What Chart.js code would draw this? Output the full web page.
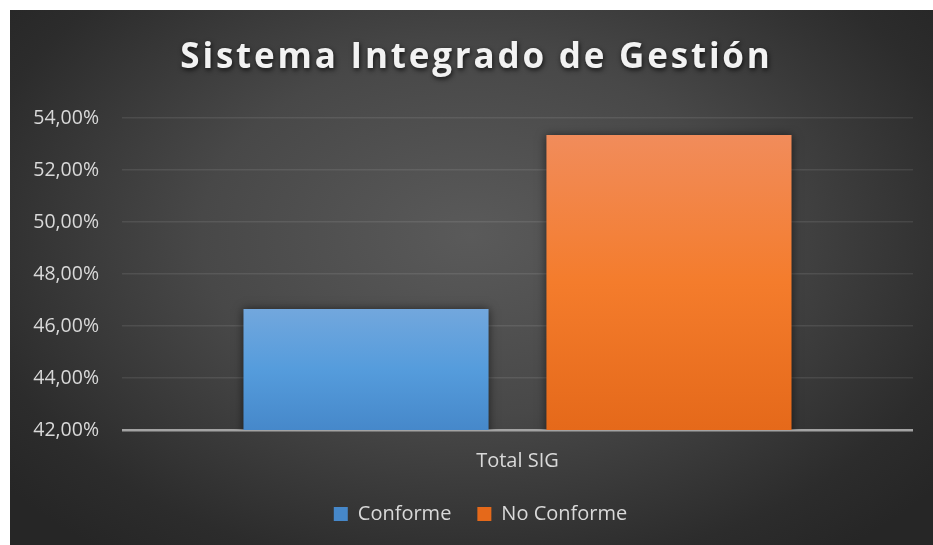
<!DOCTYPE html>
<html>
<head>
<meta charset="utf-8">
<script src="https://cdn.jsdelivr.net/npm/chart.js@4.4.1/dist/chart.umd.min.js"></script>
<style>
  html,body{margin:0;padding:0;background:#ffffff;}
  #wrap{position:absolute;left:10px;top:10px;width:923px;height:535px;
    background:radial-gradient(ellipse 65% 75% at 50% 42%, #5a5a5a 0%, #484848 45%, #2c2c2c 85%, #262626 100%);}
  canvas{display:block;}
</style>
</head>
<body>
<div id="wrap"><canvas id="c" width="923" height="535"></canvas></div>
<script>
const categories = ["Total SIG"];
const seriesNames = ["Conforme", "No Conforme"];
const conforme = [46.65];
const noConforme = [53.35];
const yTicks = [42, 44, 46, 48, 50, 52, 54];

function fmtPct(v){ return v.toFixed(2).replace('.', ',') + '%'; }

function barGradient(stops){
  return function(ctx){
    const chart = ctx.chart;
    const y = chart.scales && chart.scales.y;
    if (!y || ctx.parsed === undefined) return stops[1];
    const top = y.getPixelForValue(ctx.parsed.y);
    const bottom = y.getPixelForValue(y.min);
    if (!isFinite(top) || !isFinite(bottom)) return stops[1];
    const g = chart.ctx.createLinearGradient(0, top, 0, bottom);
    g.addColorStop(0, stops[0]);
    g.addColorStop(0.5, stops[1]);
    g.addColorStop(1, stops[2]);
    return g;
  };
}

const boxStyle = {
  id: 'boxStyle',
  afterLayout(chart){
    const tb = chart.titleBlock;
    if (tb && !tb._wrapped){
      const d = tb.draw.bind(tb);
      tb.draw = function(){
        const c = chart.ctx;
        c.save();
        c.translate(15, 0);
        c.letterSpacing = '2.8px';
        c.shadowColor = 'rgba(0,0,0,0.75)';
        c.shadowBlur = 5;
        c.shadowOffsetX = 1;
        c.shadowOffsetY = 2;
        d();
        c.restore();
      };
      tb._wrapped = true;
    }
    const lg = chart.legend;
    if (lg && !lg._wrapped){
      const d2 = lg.draw.bind(lg);
      lg.draw = function(){
        const c = chart.ctx;
        c.save();
        c.translate(19, 0);
        d2();
        c.restore();
      };
      lg._wrapped = true;
    }
  }
};

const barShadow = {
  id: 'barShadow',
  beforeDatasetsDraw(chart){
    const c = chart.ctx;
    c.save();
    c.shadowColor = 'rgba(0,0,0,0.55)';
    c.shadowBlur = 9;
    c.shadowOffsetX = 0;
    c.shadowOffsetY = 0;
  },
  afterDatasetsDraw(chart){
    chart.ctx.restore();
  }
};

new Chart(document.getElementById('c'), {
  type: 'bar',
  data: {
    labels: categories,
    datasets: [
      { label: seriesNames[0], data: conforme,
        backgroundColor: barGradient(['#72a7dd', '#559cdc', '#4688ca']),
        borderWidth: 0 },
      { label: seriesNames[1], data: noConforme,
        backgroundColor: barGradient(['#f18c5b', '#f47c2c', '#e5691a']),
        borderWidth: 0 }
    ]
  },
  options: {
    responsive: false,
    animation: false,
    categoryPercentage: 0.766,
    barPercentage: 0.809,
    layout: { padding: { left: 0, right: 20, top: 0, bottom: 11 } },
    plugins: {
      title: {
        display: true,
        text: 'Sistema Integrado de Gestión',
        color: '#f2f2f2',
        font: { family: '"Open Sans", sans-serif', size: 35, weight: 'bold', lineHeight: 1.2 },
        padding: { top: 27, bottom: 39 }
      },
      legend: {
        display: true,
        position: 'bottom',
        labels: {
          color: '#d9d9d9',
          font: { family: '"Open Sans", sans-serif', size: 20 },
          boxWidth: 14, boxHeight: 14,
          padding: 26,
          useBorderRadius: false
        }
      },
      tooltip: { enabled: false }
    },
    scales: {
      x: {
        afterFit(scale){ scale.height = 48; },
        grid: { display: false },
        border: { display: false },
        ticks: { color: '#d9d9d9', font: { family: '"Open Sans", sans-serif', size: 20 }, padding: 11 }
      },
      y: {
        min: 42, max: 54,
        afterFit(scale){ scale.width = 112; },
        afterBuildTicks(scale){ scale.ticks = yTicks.map(v => ({ value: v })); },
        border: { display: false },
        grid: {
          drawTicks: false,
          color: ctx => (ctx.tick && ctx.tick.value === 42) ? '#a3a3a3' : 'rgba(255,255,255,0.09)',
          lineWidth: ctx => (ctx.tick && ctx.tick.value === 42) ? 2.5 : 1.5
        },
        ticks: {
          color: '#d9d9d9',
          font: { family: '"Open Sans", sans-serif', size: 19.5 },
          padding: 23,
          callback: v => fmtPct(v)
        }
      }
    }
  },
  plugins: [boxStyle, barShadow]
});
</script>
</body>
</html>
